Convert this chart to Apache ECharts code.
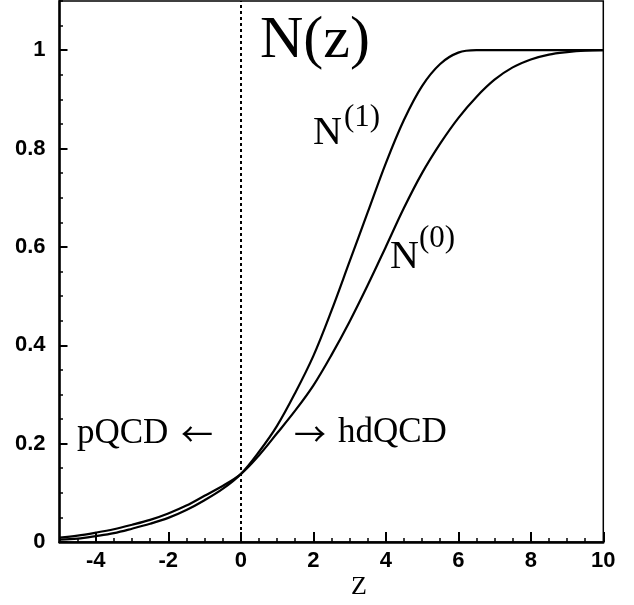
<!DOCTYPE html>
<html><head><meta charset="utf-8">
<script src="https://cdn.jsdelivr.net/npm/echarts@6/dist/echarts.min.js"></script>
<style>html,body{margin:0;padding:0;background:#fff}#c{width:634px;height:605px}</style>
</head><body><div id="c"></div>
<script>
const zValues  = [-5,-4.5,-4,-3.5,-3,-2.5,-2,-1.5,-1,-0.5,0,0.5,1,1.5,2,2.5,3,3.5,4,4.5,5,5.5,6,6.5,7,7.5,8,8.5,9,9.5,10];
const n0Values = [0.009,0.013,0.019,0.026,0.035,0.045,0.058,0.074,0.094,0.114,0.138,0.176,0.221,0.267,0.318,0.380,0.448,0.522,0.600,0.679,0.750,0.810,0.862,0.905,0.940,0.965,0.981,0.991,0.996,0.999,1.000];
const n1Values = [0.005,0.007,0.012,0.018,0.027,0.037,0.049,0.065,0.085,0.108,0.138,0.183,0.236,0.303,0.378,0.470,0.570,0.670,0.770,0.858,0.927,0.972,0.995,1.000,1.000,1.000,1.000,1.000,1.000,1.000,1.000];
const xTickValues = [-4,-2,0,2,4,6,8,10];
const yTickValues = [0,0.2,0.4,0.6,0.8,1];
const xMinorTicks = [];
for (let i = 0; i <= 30; i++) xMinorTicks.push(-5 + i * 0.5);
const yMinorTicks = [];
for (let i = 0; i <= 22; i++) yMinorTicks.push(Math.round(i * 5) / 100);
const boundaryZ = 0;

const serif = "'Liberation Serif','Times New Roman',serif";
const sans = "'Liberation Sans',Arial,sans-serif";
const arrowFont = "'Noto Sans CJK SC','DejaVu Sans',sans-serif";

const chart = echarts.init(document.getElementById('c'), null, {renderer: 'canvas'});
chart.setOption({
  animation: false,
  backgroundColor: '#fff',
  grid: {left: 59.5, right: 30.7, top: 1, bottom: 63, show: true, borderColor: '#000', borderWidth: 1.5, outerBoundsMode: 'none'},
  xAxis: [
    {type: 'value', min: -5, max: 10, position: 'bottom',
     axisLine: {onZero: false, lineStyle: {color: '#000', width: 2.5}},
     axisTick: {inside: true, length: 10, customValues: xTickValues, lineStyle: {color: '#000', width: 2}},
     axisLabel: {customValues: xTickValues, color: '#000', fontFamily: sans, fontWeight: 'bold', fontSize: 22, margin: 8},
     splitLine: {show: false}},
    {type: 'value', min: -5, max: 10, position: 'bottom',
     axisLine: {show: false, onZero: false},
     axisTick: {inside: true, length: 4, customValues: xMinorTicks, lineStyle: {color: '#000', width: 1.5}},
     axisLabel: {show: false}, splitLine: {show: false}}
  ],
  yAxis: [
    {type: 'value', min: 0, max: 1.1, position: 'left',
     axisLine: {show: true, onZero: false, lineStyle: {color: '#000', width: 2.5}},
     axisTick: {show: true, inside: true, length: 8, customValues: yTickValues, lineStyle: {color: '#000', width: 2}},
     axisLabel: {customValues: yTickValues, color: '#000', fontFamily: sans, fontWeight: 'bold', fontSize: 22, margin: 14},
     splitLine: {show: false}},
    {type: 'value', min: 0, max: 1.1, position: 'left',
     axisLine: {show: false, onZero: false},
     axisTick: {show: true, inside: true, length: 3.5, customValues: yMinorTicks, lineStyle: {color: '#000', width: 1.5}},
     axisLabel: {show: false}, splitLine: {show: false}}
  ],
  series: [
    {type: 'line', name: 'N(0)', xAxisIndex: 0, yAxisIndex: 0,
     data: zValues.map((z, i) => [z, n0Values[i]]),
     smooth: 0.35, showSymbol: false, symbol: 'none',
     lineStyle: {color: '#000', width: 2.2},
     markLine: {silent: true, symbol: 'none', label: {show: false},
       lineStyle: {color: '#000', width: 2, type: [3, 3]},
       data: [{xAxis: boundaryZ}]}},
    {type: 'line', name: 'N(1)', xAxisIndex: 0, yAxisIndex: 0,
     data: zValues.map((z, i) => [z, n1Values[i]]),
     smooth: 0.35, showSymbol: false, symbol: 'none',
     lineStyle: {color: '#000', width: 2.2}}
  ],
  graphic: [
    {type: 'text', left: 260, top: 11, style: {text: 'N(z)', font: '60px ' + serif, fill: '#000'}},
    {type: 'text', x: 313, y: 133.5, style: {text: 'N', font: '40px ' + serif, fill: '#000', textVerticalAlign: 'middle'}},
    {type: 'text', x: 344, y: 118, style: {text: '(1)', font: '31px ' + serif, fill: '#000', textVerticalAlign: 'middle'}},
    {type: 'text', x: 390, y: 257, style: {text: 'N', font: '40px ' + serif, fill: '#000', textVerticalAlign: 'middle'}},
    {type: 'text', x: 419, y: 239, style: {text: '(0)', font: '31px ' + serif, fill: '#000', textVerticalAlign: 'middle'}},
    {type: 'text', x: 77, y: 434, style: {text: 'pQCD', font: '35px ' + serif, fill: '#000', textVerticalAlign: 'middle'}},
    {type: 'text', x: 181, y: 434, style: {text: '\u2190', font: '32px ' + arrowFont, fill: '#000', textVerticalAlign: 'middle'}},
    {type: 'text', x: 294, y: 434, style: {text: '\u2192', font: '32px ' + arrowFont, fill: '#000', textVerticalAlign: 'middle'}},
    {type: 'text', x: 338, y: 433, style: {text: 'hdQCD', font: '35px ' + serif, fill: '#000', textVerticalAlign: 'middle'}},
    {type: 'text', x: 359, y: 587, style: {text: 'Z', font: '26px ' + serif, fill: '#000', textAlign: 'center', textVerticalAlign: 'middle'}}
  ]
});
</script></body></html>
